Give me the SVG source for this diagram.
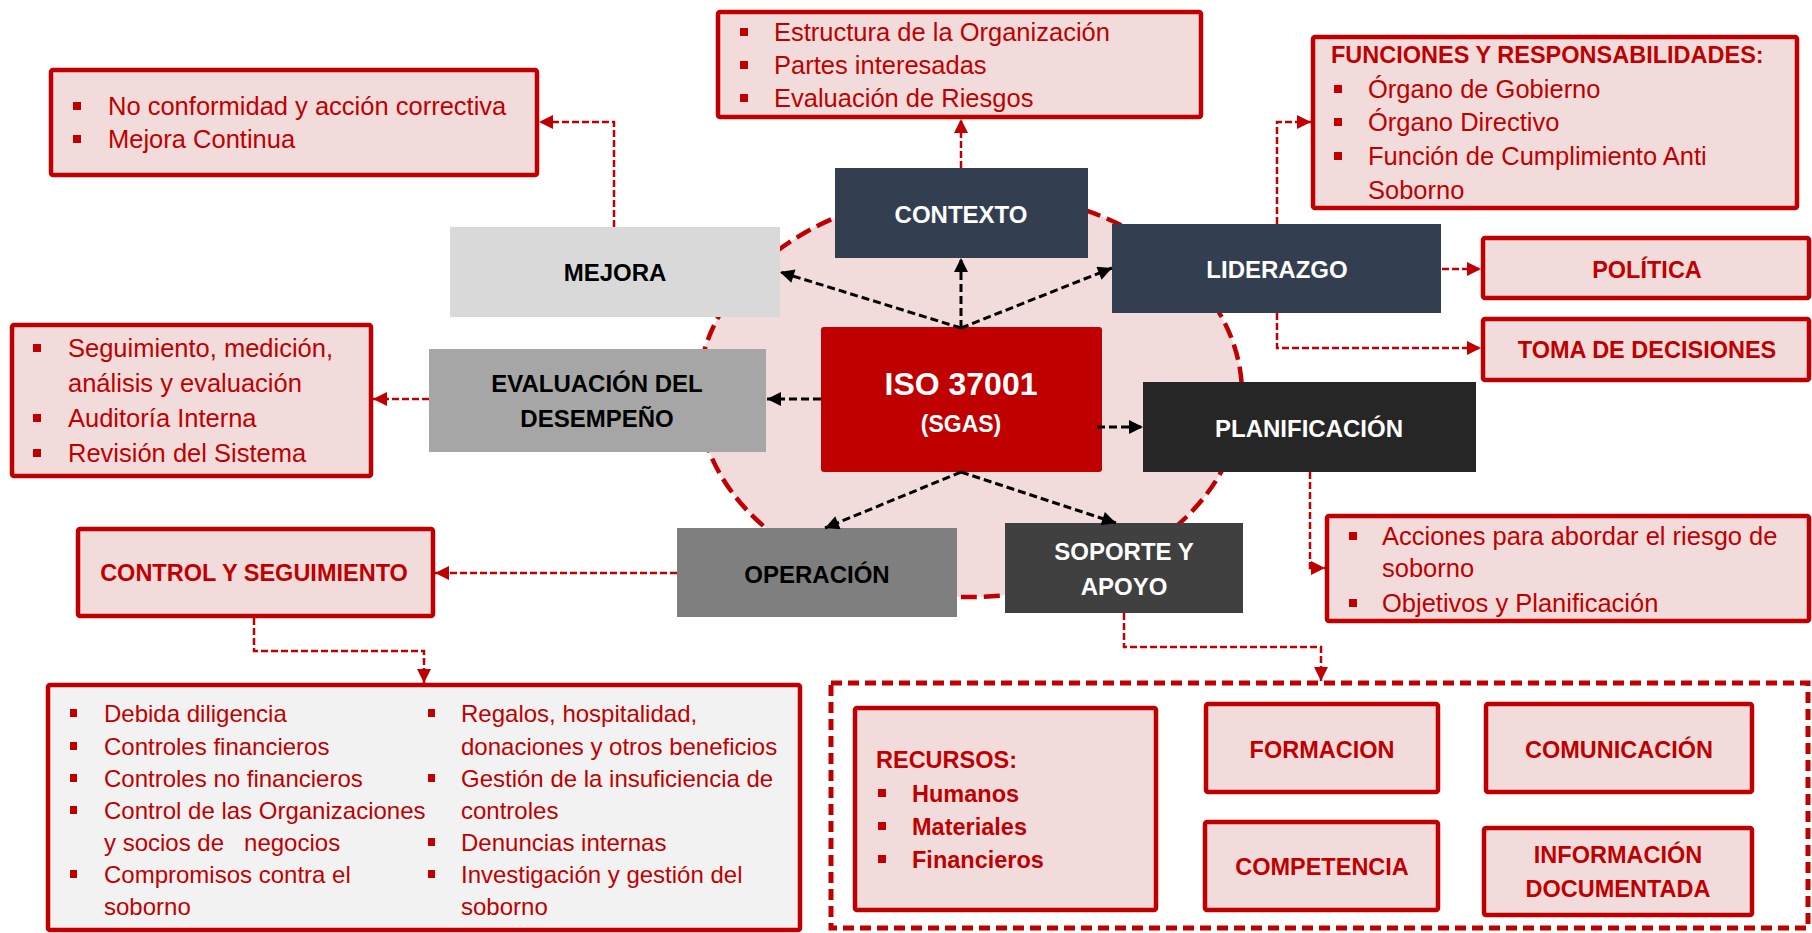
<svg xmlns="http://www.w3.org/2000/svg" width="1812" height="933" viewBox="0 0 1812 933">
<style>
.rb{fill:#f2dcdb;stroke:#c00000;stroke-width:4.5}
.lt{font-family:"Liberation Sans",Arial,sans-serif;font-size:25.5px;fill:#c00000}
.lb{font-family:"Liberation Sans",Arial,sans-serif;font-size:24px;fill:#c00000}
.rt{font-family:"Liberation Sans",Arial,sans-serif;font-size:23.5px;font-weight:bold;fill:#c00000}
.rtc{font-family:"Liberation Sans",Arial,sans-serif;font-size:23.5px;font-weight:bold;fill:#c00000;text-anchor:middle}
.nw{font-family:"Liberation Sans",Arial,sans-serif;font-size:24px;font-weight:bold;fill:#fff;text-anchor:middle}
.nk{font-family:"Liberation Sans",Arial,sans-serif;font-size:24px;font-weight:bold;fill:#000;text-anchor:middle}
.bu{fill:#c00000}
.kc{fill:none;stroke:#000;stroke-width:3;stroke-dasharray:8 4}
.rc{fill:none;stroke:#c00000;stroke-width:2.5;stroke-dasharray:7 3}
</style>
<defs>
<marker id="ak" viewBox="0 0 10 10" refX="10" refY="5" markerWidth="15" markerHeight="14" markerUnits="userSpaceOnUse" orient="auto"><path d="M0,0L10,5L0,10z" fill="#000"/></marker>
<marker id="ar" viewBox="0 0 10 10" refX="10" refY="5" markerWidth="14" markerHeight="14" markerUnits="userSpaceOnUse" orient="auto"><path d="M0,0L10,5L0,10z" fill="#c00000"/></marker>
</defs>

<ellipse id="ring" cx="970" cy="394" rx="272" ry="203" fill="#f2dcdb" stroke="#c00000" stroke-width="4.5" stroke-dasharray="16 7"/>

<g id="mejora"><rect x="450" y="227" width="330" height="90" fill="#d9d9d9"/><text class="nk" x="615" y="281">MEJORA</text></g>
<g id="contexto"><rect x="835" y="168" width="253" height="90" fill="#333f50"/><text class="nw" x="961" y="223">CONTEXTO</text></g>
<g id="liderazgo"><rect x="1112" y="224" width="329" height="89" fill="#333f50"/><text class="nw" x="1277" y="278">LIDERAZGO</text></g>
<g id="evaluacion"><rect x="429" y="349" width="337" height="103" fill="#a6a6a6"/><text class="nk" x="597" y="392">EVALUACIÓN DEL</text><text class="nk" x="597" y="427">DESEMPEÑO</text></g>
<g id="iso"><rect x="821" y="327" width="281" height="145" rx="3" fill="#c00000"/><text x="961" y="395" font-family="Liberation Sans,Arial,sans-serif" font-size="32" font-weight="bold" fill="#fff" text-anchor="middle">ISO 37001</text><text x="961" y="432" font-family="Liberation Sans,Arial,sans-serif" font-size="23" font-weight="bold" fill="#fff" text-anchor="middle">(SGAS)</text></g>
<g id="planificacion"><rect x="1143" y="382" width="333" height="90" fill="#262626"/><text class="nw" x="1309" y="437">PLANIFICACIÓN</text></g>
<g id="operacion"><rect x="677" y="528" width="280" height="89" fill="#7f7f7f"/><text class="nk" x="817" y="583">OPERACIÓN</text></g>
<g id="soporte"><rect x="1005" y="523" width="238" height="90" fill="#404040"/><text class="nw" x="1124" y="560">SOPORTE Y</text><text class="nw" x="1124" y="595">APOYO</text></g>

<g id="mejora-list"><rect class="rb" x="51" y="70" width="486" height="105" rx="2"/>
<rect class="bu" x="73" y="102" width="8" height="8"/><text class="lt" x="108" y="115">No conformidad y acción correctiva</text>
<rect class="bu" x="73" y="135" width="8" height="8"/><text class="lt" x="108" y="148">Mejora Continua</text></g>

<g id="contexto-list"><rect class="rb" x="718" y="12" width="483" height="105" rx="2"/>
<rect class="bu" x="740" y="28" width="8" height="8"/><text class="lt" x="774" y="41">Estructura de la Organización</text>
<rect class="bu" x="740" y="61" width="8" height="8"/><text class="lt" x="774" y="74">Partes interesadas</text>
<rect class="bu" x="740" y="94" width="8" height="8"/><text class="lt" x="774" y="107">Evaluación de Riesgos</text></g>

<g id="funciones"><rect class="rb" x="1313" y="37" width="484" height="171" rx="2"/>
<text class="rt" x="1331" y="63" font-size="23">FUNCIONES Y RESPONSABILIDADES:</text>
<rect class="bu" x="1334" y="85" width="8" height="8"/><text class="lt" x="1368" y="98">Órgano de Gobierno</text>
<rect class="bu" x="1334" y="118" width="8" height="8"/><text class="lt" x="1368" y="131">Órgano Directivo</text>
<rect class="bu" x="1334" y="152" width="8" height="8"/><text class="lt" x="1368" y="165">Función de Cumplimiento Anti</text>
<text class="lt" x="1368" y="199">Soborno</text></g>

<g id="politica"><rect class="rb" x="1483" y="238" width="326" height="60" rx="2"/><text class="rtc" x="1647" y="278">POLÍTICA</text></g>
<g id="toma"><rect class="rb" x="1483" y="319" width="326" height="61" rx="2"/><text class="rtc" x="1647" y="358">TOMA DE DECISIONES</text></g>

<g id="evaluacion-list"><rect class="rb" x="12" y="325" width="359" height="151" rx="2"/>
<rect class="bu" x="33" y="344" width="8" height="8"/><text class="lt" x="68" y="357" font-size="26.5">Seguimiento, medición,</text>
<text class="lt" x="68" y="392" font-size="26.5">análisis y evaluación</text>
<rect class="bu" x="33" y="414" width="8" height="8"/><text class="lt" x="68" y="427" font-size="26.5">Auditoría Interna</text>
<rect class="bu" x="33" y="449" width="8" height="8"/><text class="lt" x="68" y="462" font-size="26.5">Revisión del Sistema</text></g>

<g id="acciones"><rect class="rb" x="1327" y="516" width="482" height="105" rx="2"/>
<rect class="bu" x="1349" y="532" width="8" height="8"/><text class="lt" x="1382" y="545" font-size="25">Acciones para abordar el riesgo de</text>
<text class="lt" x="1382" y="577" font-size="25">soborno</text>
<rect class="bu" x="1349" y="599" width="8" height="8"/><text class="lt" x="1382" y="612" font-size="25">Objetivos y Planificación</text></g>

<g id="control"><rect class="rb" x="78" y="529" width="355" height="87" rx="2"/><text class="rtc" x="254" y="581">CONTROL Y SEGUIMIENTO</text></g>

<g id="control-list"><rect x="48" y="685" width="752" height="245" rx="2" fill="#f2f2f2" stroke="#c00000" stroke-width="4.5"/>
<rect class="bu" x="70" y="709" width="7" height="8"/><text class="lb" x="104" y="722">Debida diligencia</text>
<rect class="bu" x="70" y="742" width="7" height="8"/><text class="lb" x="104" y="755">Controles financieros</text>
<rect class="bu" x="70" y="774" width="7" height="8"/><text class="lb" x="104" y="787">Controles no financieros</text>
<rect class="bu" x="70" y="806" width="7" height="8"/><text class="lb" x="104" y="819">Control de las Organizaciones</text>
<text class="lb" x="104" y="851" xml:space="preserve">y socios de   negocios</text>
<rect class="bu" x="70" y="870" width="7" height="8"/><text class="lb" x="104" y="883">Compromisos contra el</text>
<text class="lb" x="104" y="915">soborno</text>
<rect class="bu" x="428" y="709" width="7" height="8"/><text class="lb" x="461" y="722">Regalos, hospitalidad,</text>
<text class="lb" x="461" y="755">donaciones y otros beneficios</text>
<rect class="bu" x="428" y="774" width="7" height="8"/><text class="lb" x="461" y="787">Gestión de la insuficiencia de</text>
<text class="lb" x="461" y="819">controles</text>
<rect class="bu" x="428" y="838" width="7" height="8"/><text class="lb" x="461" y="851">Denuncias internas</text>
<rect class="bu" x="428" y="870" width="7" height="8"/><text class="lb" x="461" y="883">Investigación y gestión del</text>
<text class="lb" x="461" y="915">soborno</text></g>

<g id="soporte-group">
<rect x="831" y="683" width="977" height="245" fill="none" stroke="#c00000" stroke-width="5" stroke-dasharray="11 6"/>
<g id="recursos"><rect class="rb" x="855" y="708" width="301" height="202" rx="2"/>
<text class="rt" x="876" y="768">RECURSOS:</text>
<rect class="bu" x="878" y="789" width="8" height="8"/><text class="rt" x="912" y="802">Humanos</text>
<rect class="bu" x="878" y="822" width="8" height="8"/><text class="rt" x="912" y="835">Materiales</text>
<rect class="bu" x="878" y="855" width="8" height="8"/><text class="rt" x="912" y="868">Financieros</text></g>
<g id="formacion"><rect class="rb" x="1206" y="704" width="232" height="88" rx="2"/><text class="rtc" x="1322" y="758">FORMACION</text></g>
<g id="comunicacion"><rect class="rb" x="1486" y="704" width="266" height="88" rx="2"/><text class="rtc" x="1619" y="758">COMUNICACIÓN</text></g>
<g id="competencia"><rect class="rb" x="1205" y="822" width="233" height="88" rx="2"/><text class="rtc" x="1322" y="875">COMPETENCIA</text></g>
<g id="informacion"><rect class="rb" x="1484" y="828" width="268" height="87" rx="2"/><text class="rtc" x="1618" y="863">INFORMACIÓN</text><text class="rtc" x="1618" y="897">DOCUMENTADA</text></g>
</g>

<g id="connectors">
<path class="kc" d="M961,328L780,272" marker-end="url(#ak)"/>
<path class="kc" d="M961,328L961,258" marker-end="url(#ak)"/>
<path class="kc" d="M961,328L1112,268" marker-end="url(#ak)"/>
<path class="kc" d="M821,399L767,399" marker-end="url(#ak)"/>
<path class="kc" d="M1097,427L1143,427" marker-end="url(#ak)"/>
<path class="kc" d="M961,472L825,528" marker-end="url(#ak)"/>
<path class="kc" d="M961,472L1116,523" marker-end="url(#ak)"/>
<path class="rc" d="M614,227V122H539" marker-end="url(#ar)"/>
<path class="rc" d="M961,168V119" marker-end="url(#ar)"/>
<path class="rc" d="M1277,224V122H1311" marker-end="url(#ar)"/>
<path class="rc" d="M1442,269H1481" marker-end="url(#ar)"/>
<path class="rc" d="M1277,313V348H1481" marker-end="url(#ar)"/>
<path class="rc" d="M429,399H373" marker-end="url(#ar)"/>
<path class="rc" d="M1310,472V568H1325" marker-end="url(#ar)"/>
<path class="rc" d="M677,573H435" marker-end="url(#ar)"/>
<path class="rc" d="M254,618V651H424V683" marker-end="url(#ar)"/>
<path class="rc" d="M1124,613V647H1321V681" marker-end="url(#ar)"/>
</g>
</svg>
